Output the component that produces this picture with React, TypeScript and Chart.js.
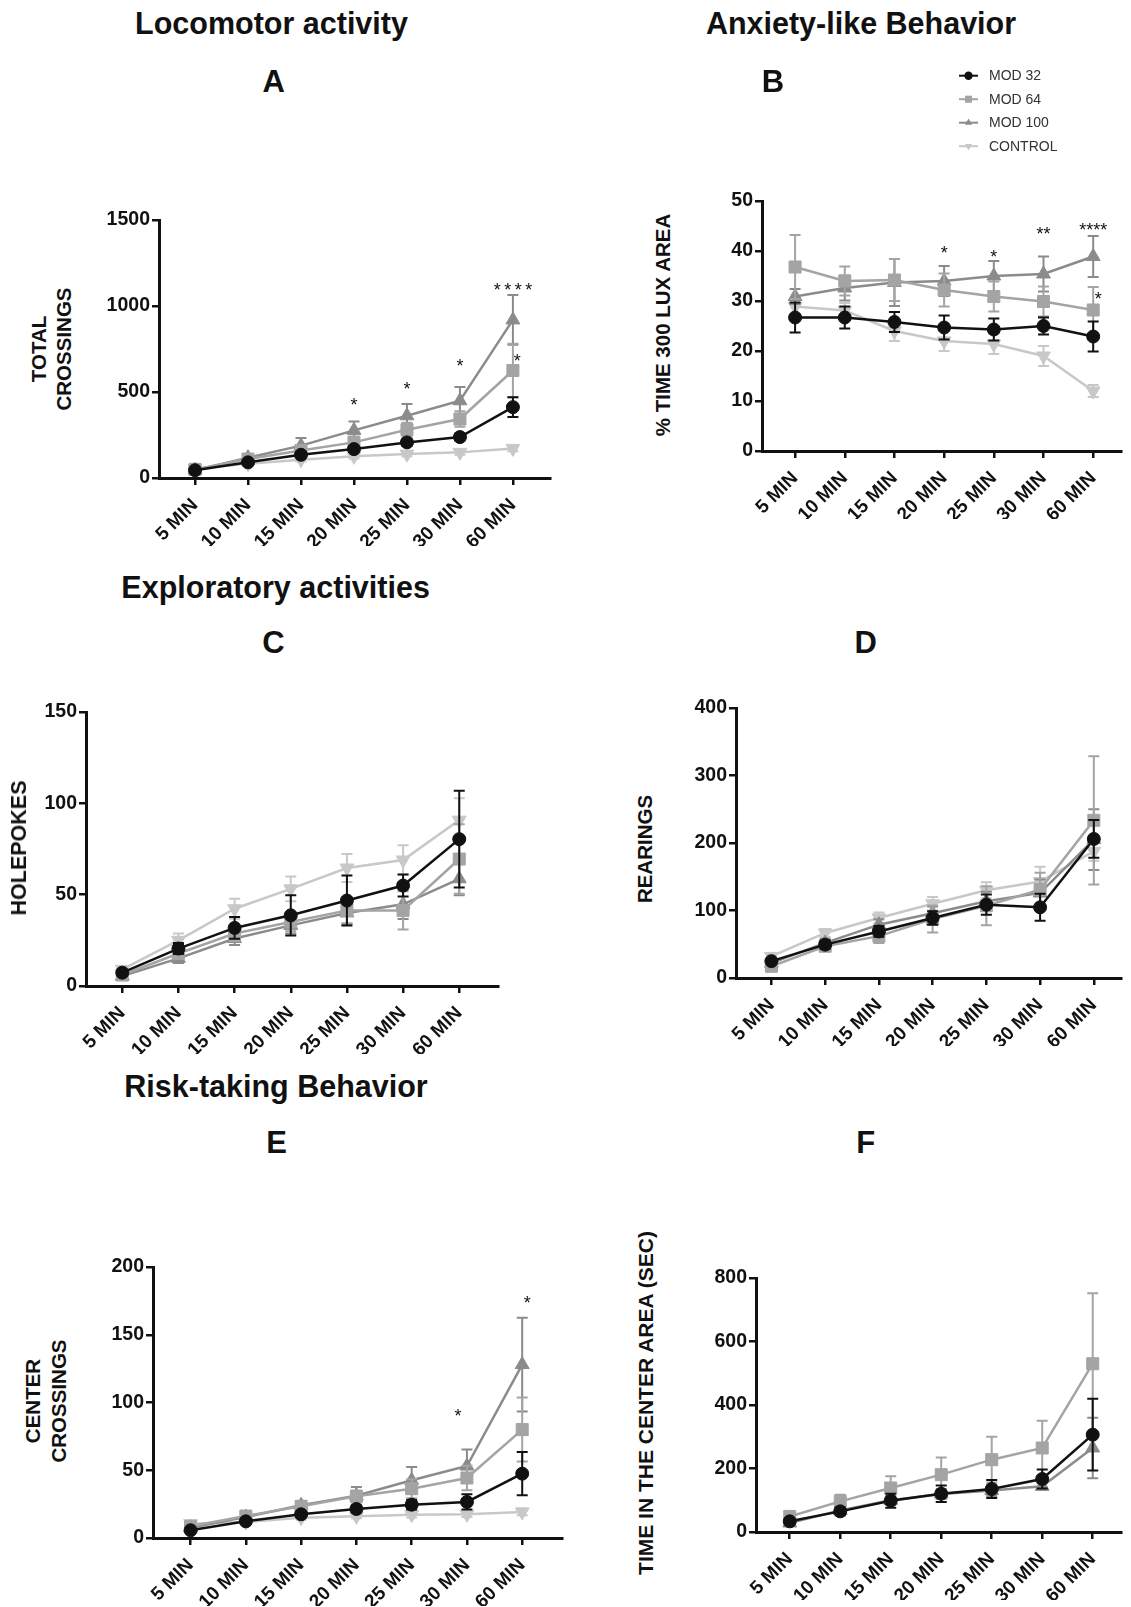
import { useEffect, useRef } from 'react';
import { Chart, registerables } from 'chart.js';

Chart.register(...registerables);

const FONT = '"Liberation Sans", Arial, Helvetica, sans-serif';
const INK = '#111111';

// ---- shared categories / groups ----
const timeLabels = ['5 MIN', '10 MIN', '15 MIN', '20 MIN', '25 MIN', '30 MIN', '60 MIN'];
const groupNames = ['MOD 32', 'MOD 64', 'MOD 100', 'CONTROL'];

// ---- A: total crossings (mean, SEM) ----
const crossTicks = [0, 500, 1000, 1500];
const crossMod32 = [45, 91, 135, 168, 207, 238, 412];
const crossMod32Sem = [8, 10, 12, 14, 18, 20, 58];
const crossMod64 = [50, 110, 160, 207, 281, 343, 625];
const crossMod64Sem = [8, 14, 25, 35, 40, 45, 155];
const crossMod100 = [45, 118, 188, 277, 362, 449, 919];
const crossMod100Sem = [8, 15, 44, 52, 68, 80, 145];
const crossControl = [55, 83, 106, 126, 139, 149, 172];
const crossControlSem = [6, 8, 10, 12, 12, 14, 16];
const crossStars = [
  { at: 3, value: 450, mark: '*' },
  { at: 4, value: 542, mark: '*' },
  { at: 5, value: 677, mark: '*' },
  { at: 6, value: 1118, mark: '****' },
  { at: 6.08, value: 706, mark: '*' },
];

// ---- B: % time in 300 lux area ----
const luxTicks = [0, 10, 20, 30, 40, 50];
const luxMod32 = [26.7, 26.7, 25.8, 24.7, 24.3, 25.0, 22.9];
const luxMod32Sem = [3, 2.2, 2, 2.4, 2.2, 1.7, 3];
const luxMod64 = [36.8, 34.0, 34.2, 32.2, 30.9, 29.9, 28.2];
const luxMod64Sem = [6.4, 2.9, 4.2, 3.3, 3, 3, 4.6];
const luxMod100 = [30.9, 32.6, 33.7, 34.0, 35.0, 35.4, 38.9];
const luxMod100Sem = [1.5, 2.5, 4.7, 3, 3, 3.5, 4.1];
const luxControl = [28.9, 28.1, 24.0, 22.0, 21.4, 19.0, 12.0];
const luxControlSem = [1.5, 1.5, 2, 2, 2, 2, 1.2];
const luxStars = [
  { at: 3, value: 40.4, mark: '*' },
  { at: 4, value: 39.7, mark: '*' },
  { at: 5, value: 44.3, mark: '**' },
  { at: 6, value: 45.1, mark: '****' },
  { at: 6.1, value: 31.2, mark: '*' },
];

// ---- C: holepokes ----
const pokeTicks = [0, 50, 100, 150];
const pokeMod32 = [7.3, 20.5, 31.8, 38.7, 46.8, 55, 80.4];
const pokeMod32Sem = [1.5, 3, 6, 11, 13.7, 6, 26.5];
const pokeMod64 = [6, 17.8, 28.7, 35, 41.4, 41.4, 69.5];
const pokeMod64Sem = [1.5, 3, 4, 5, 7, 10.5, 19];
const pokeMod100 = [5.4, 15.1, 26, 33.2, 40, 44.7, 58.7];
const pokeMod100Sem = [1.2, 2.5, 3.5, 4.5, 6, 8, 9];
const pokeControl = [9.1, 25, 42.3, 53.2, 64.6, 69, 90.8];
const pokeControlSem = [1.5, 3.7, 5.5, 6.8, 7.7, 8, 12];

// ---- D: rearings ----
const rearTicks = [0, 100, 200, 300, 400];
const rearMod32 = [25, 49.4, 69, 89, 108.6, 104.7, 206];
const rearMod32Sem = [4, 6, 8, 10, 15, 20, 28];
const rearMod64 = [17.3, 47, 62, 87.4, 107, 131, 233.6];
const rearMod64Sem = [4, 6, 10, 20, 29, 25, 95];
const rearMod100 = [22, 52, 79, 96, 113.6, 126, 205];
const rearMod100Sem = [4, 6, 8, 10, 14, 20, 45];
const rearControl = [32, 66.7, 89, 110, 130, 143, 187.6];
const rearControlSem = [4, 6, 8, 10, 12, 22, 14];

// ---- E: center crossings ----
const centerTicks = [0, 50, 100, 150, 200];
const centerMod32 = [5.7, 12.3, 17.5, 21.4, 24.6, 26.6, 47.5];
const centerMod32Sem = [1, 1.5, 2, 2.5, 3.5, 5.6, 16];
const centerMod64 = [8.6, 16.2, 23.4, 30.8, 36.4, 44.3, 80];
const centerMod64Sem = [1.5, 2, 3, 4, 7, 9, 23.6];
const centerMod100 = [7.6, 15.5, 24.1, 31.2, 42.6, 53.1, 128];
const centerMod100Sem = [1.5, 2, 3, 6.4, 9.8, 12.3, 34.6];
const centerControl = [10.6, 11.8, 15, 16, 17.2, 17.5, 19.2];
const centerControlSem = [1, 1, 1.5, 1.5, 2, 2, 2.5];
const centerStars = [
  { at: 4.84, value: 93.5, mark: '*' },
  { at: 6.09, value: 176.6, mark: '*' },
];

// ---- F: time in the center area (s) ----
const timeTicks = [0, 200, 400, 600, 800];
const timeMod32 = [33.6, 65, 98.7, 120.7, 135.4, 167, 306.6];
const timeMod32Sem = [5, 12, 22, 26, 28, 30, 113];
const timeMod64 = [49, 96.6, 138.6, 180.6, 227.8, 264.6, 530];
const timeMod64Sem = [6, 21, 37, 54, 72, 86, 222];
const timeMod100 = [28.3, 68, 99.7, 119.7, 131, 143.8, 264.6];
const timeMod100Sem = [5, 10, 14, 16, 18, 10, 95];

// ---- styling ----
const groupStyles = [
  { color: '#111111', pointStyle: 'circle', radius: 6.5, rotation: 0 },
  { color: '#a4a4a4', pointStyle: 'rect', radius: 8.5, rotation: 0 },
  { color: '#8b8b8b', pointStyle: 'triangle', radius: 8, rotation: 0 },
  { color: '#c8c8c8', pointStyle: 'triangle', radius: 8, rotation: 180 },
];

const Y_AXIS_W = 75;
const X_AXIS_H = 68;

type Star = { at: number; value: number; mark: string };
type Panel = {
  key: string;
  area: { left: number; top: number; right: number; bottom: number };
  padTop: number;
  padRight: number;
  xMin: number;
  xMax: number;
  yTicks: number[];
  means: (number[] | null)[];
  sems: (number[] | null)[];
  stars: Star[];
  starSpacing: number;
  legend?: boolean;
};

const panels: Panel[] = [
  {
    key: 'A', area: { left: 159, top: 220, right: 550, bottom: 478 }, padTop: 20, padRight: 12,
    xMin: -0.68, xMax: 6.7, yTicks: crossTicks,
    means: [crossMod32, crossMod64, crossMod100, crossControl],
    sems: [crossMod32Sem, crossMod64Sem, crossMod100Sem, crossControlSem],
    stars: crossStars, starSpacing: 3.5,
  },
  {
    key: 'B', area: { left: 762, top: 201, right: 1131, bottom: 451 }, padTop: 145, padRight: 0,
    xMin: -0.666, xMax: 6.57, yTicks: luxTicks,
    means: [luxMod32, luxMod64, luxMod100, luxControl],
    sems: [luxMod32Sem, luxMod64Sem, luxMod100Sem, luxControlSem],
    stars: luxStars, starSpacing: 0, legend: true,
  },
  {
    key: 'C', area: { left: 86, top: 712, right: 498, bottom: 986 }, padTop: 20, padRight: 12,
    xMin: -0.646, xMax: 6.69, yTicks: pokeTicks,
    means: [pokeMod32, pokeMod64, pokeMod100, pokeControl],
    sems: [pokeMod32Sem, pokeMod64Sem, pokeMod100Sem, pokeControlSem],
    stars: [], starSpacing: 0,
  },
  {
    key: 'D', area: { left: 736, top: 708, right: 1131, bottom: 978 }, padTop: 20, padRight: 0,
    xMin: -0.659, xMax: 6.515, yTicks: rearTicks,
    means: [rearMod32, rearMod64, rearMod100, rearControl],
    sems: [rearMod32Sem, rearMod64Sem, rearMod100Sem, rearControlSem],
    stars: [], starSpacing: 0,
  },
  {
    key: 'E', area: { left: 153, top: 1267, right: 562, bottom: 1538 }, padTop: 20, padRight: 12,
    xMin: -0.68, xMax: 6.72, yTicks: centerTicks,
    means: [centerMod32, centerMod64, centerMod100, centerControl],
    sems: [centerMod32Sem, centerMod64Sem, centerMod100Sem, centerControlSem],
    stars: centerStars, starSpacing: 0,
  },
  {
    key: 'F', area: { left: 756, top: 1278, right: 1131, bottom: 1532 }, padTop: 20, padRight: 0,
    xMin: -0.668, xMax: 6.57, yTicks: timeTicks,
    means: [timeMod32, timeMod64, timeMod100, null],
    sems: [timeMod32Sem, timeMod64Sem, timeMod100Sem, null],
    stars: [], starSpacing: 0,
  },
];

const headings = [
  { text: 'Locomotor activity', x: 271.5, y: 23, size: 30.5 },
  { text: 'A', x: 273.7, y: 81, size: 31 },
  { text: 'Anxiety-like Behavior', x: 861, y: 23, size: 30.5 },
  { text: 'B', x: 773, y: 81, size: 31 },
  { text: 'Exploratory activities', x: 275.6, y: 587, size: 30.5 },
  { text: 'C', x: 273.5, y: 642, size: 31 },
  { text: 'D', x: 865.7, y: 642, size: 31 },
  { text: 'Risk-taking Behavior', x: 276, y: 1086, size: 30.5 },
  { text: 'E', x: 276.6, y: 1142, size: 31 },
  { text: 'F', x: 865.7, y: 1142, size: 31 },
];

const axisTitles = [
  { lines: ['TOTAL', 'CROSSINGS'], x: 50.5, y: 349, size: 20.5, lh: 25 },
  { lines: ['% TIME 300 LUX AREA'], x: 661.7, y: 325, size: 20.5, lh: 21 },
  { lines: ['HOLEPOKES'], x: 18.7, y: 848, size: 21.5, lh: 22 },
  { lines: ['REARINGS'], x: 644, y: 849, size: 20.5, lh: 21 },
  { lines: ['CENTER', 'CROSSINGS'], x: 46, y: 1401, size: 20.5, lh: 26 },
  { lines: ['TIME IN THE CENTER AREA (SEC)'], x: 645.5, y: 1403, size: 21, lh: 22 },
];

function drawMarker(ctx: CanvasRenderingContext2D, style: string, rotationDeg: number, x: number, y: number, r: number) {
  ctx.beginPath();
  if (style === 'circle') {
    ctx.arc(x, y, r, 0, Math.PI * 2);
  } else if (style === 'rect') {
    const s = r * Math.SQRT1_2;
    ctx.rect(x - s, y - s, 2 * s, 2 * s);
  } else {
    let a = (rotationDeg * Math.PI) / 180;
    for (let k = 0; k < 3; k++) {
      const px = x + Math.sin(a) * r;
      const py = y - Math.cos(a) * r;
      if (k === 0) ctx.moveTo(px, py);
      else ctx.lineTo(px, py);
      a += (2 * Math.PI) / 3;
    }
    ctx.closePath();
  }
  ctx.fill();
}

// SEM whiskers, drawn just before each dataset's line and markers
const errorBarPlugin = {
  id: 'semBars',
  beforeDatasetDraw(chart: any, args: any) {
    const ds = chart.data.datasets[args.index];
    const sems: number[] | undefined = ds.sems;
    if (!sems) return;
    const y = chart.scales.y;
    const ctx: CanvasRenderingContext2D = chart.ctx;
    ctx.save();
    ctx.strokeStyle = ds.borderColor;
    ctx.lineWidth = 2;
    args.meta.data.forEach((pt: any, i: number) => {
      const v = ds.data[i].y;
      const e = sems[i];
      const top = y.getPixelForValue(v + e);
      const bot = y.getPixelForValue(Math.max(v - e, 0));
      const x = pt.x;
      ctx.beginPath();
      ctx.moveTo(x, top);
      ctx.lineTo(x, bot);
      ctx.moveTo(x - 5.5, top);
      ctx.lineTo(x + 5.5, top);
      ctx.moveTo(x - 5.5, bot);
      ctx.lineTo(x + 5.5, bot);
      ctx.stroke();
    });
    ctx.restore();
  },
};

function makeStarPlugin(stars: Star[], spacing: number) {
  return {
    id: 'significance',
    afterDatasetsDraw(chart: any) {
      const ctx: CanvasRenderingContext2D = chart.ctx;
      const size = 18;
      ctx.save();
      ctx.fillStyle = INK;
      ctx.font = `${size}px ${FONT}`;
      ctx.textAlign = 'left';
      ctx.textBaseline = 'alphabetic';
      stars.forEach((s) => {
        const x = chart.scales.x.getPixelForValue(s.at);
        const y = chart.scales.y.getPixelForValue(s.value);
        const chars = s.mark.split('');
        const cw = ctx.measureText('*').width;
        const total = chars.length * cw + (chars.length - 1) * spacing;
        let cx = x - total / 2;
        chars.forEach((ch) => {
          ctx.fillText(ch, cx, y + size * 0.57);
          cx += cw + spacing;
        });
      });
      ctx.restore();
    },
  };
}

const legendPlugin = {
  id: 'groupLegend',
  afterDraw(chart: any) {
    const ctx: CanvasRenderingContext2D = chart.ctx;
    const { left, top } = chart.chartArea;
    const x0 = left + 197;
    ctx.save();
    groupNames.forEach((name, g) => {
      const st = groupStyles[g];
      const y = top - 125.3 + g * 23.5;
      ctx.strokeStyle = st.color;
      ctx.fillStyle = st.color;
      ctx.lineWidth = 2;
      ctx.beginPath();
      ctx.moveTo(x0, y);
      ctx.lineTo(x0 + 19, y);
      ctx.stroke();
      drawMarker(ctx, st.pointStyle, st.rotation, x0 + 9.5, y, st.pointStyle === 'rect' ? 5 : 4.2);
      ctx.fillStyle = '#333333';
      ctx.font = `14px ${FONT}`;
      ctx.textAlign = 'left';
      ctx.textBaseline = 'middle';
      ctx.fillText(name, x0 + 30, y + 0.5);
    });
    ctx.restore();
  },
};

function PanelChart({ p }: { p: Panel }) {
  const ref = useRef<HTMLCanvasElement>(null);
  const left = p.area.left - Y_AXIS_W;
  const top = p.area.top - p.padTop;
  const width = p.area.right + p.padRight - left;
  const height = p.area.bottom + X_AXIS_H - top;

  useEffect(() => {
    const datasets: any[] = [];
    p.means.forEach((m, g) => {
      if (!m) return;
      const st = groupStyles[g];
      datasets.push({
        label: groupNames[g],
        data: m.map((v, i) => ({ x: i, y: v })),
        sems: p.sems[g],
        borderColor: st.color,
        backgroundColor: st.color,
        borderWidth: 2.5,
        pointStyle: st.pointStyle,
        pointRadius: st.radius,
        pointRotation: st.rotation,
        pointBorderWidth: 1,
        pointBorderColor: st.color,
        pointBackgroundColor: st.color,
        tension: 0,
        fill: false,
        clip: false,
      });
    });
    const yTicks = p.yTicks;
    const gridOpts = {
      display: true,
      drawOnChartArea: false,
      drawTicks: true,
      tickLength: 7,
      tickWidth: 2.5,
      tickColor: INK,
      color: INK,
      lineWidth: 2.5,
    };
    const plugins: any[] = [errorBarPlugin, makeStarPlugin(p.stars, p.starSpacing)];
    if (p.legend) plugins.push(legendPlugin);
    const chart = new Chart(ref.current as HTMLCanvasElement, {
      type: 'line',
      data: { datasets },
      options: {
        animation: false,
        responsive: false,
        devicePixelRatio: 1,
        events: [],
        layout: { padding: { top: p.padTop, right: p.padRight, left: 0, bottom: 0 } },
        plugins: { legend: { display: false }, tooltip: { enabled: false } },
        scales: {
          x: {
            type: 'linear',
            min: p.xMin,
            max: p.xMax,
            afterBuildTicks: (s: any) => {
              s.ticks = timeLabels.map((_, i) => ({ value: i }));
            },
            afterFit: (s: any) => {
              s.height = X_AXIS_H;
            },
            ticks: {
              autoSkip: false,
              minRotation: 45,
              maxRotation: 45,
              padding: 9,
              color: INK,
              font: { family: FONT, size: 19, weight: 'bold' },
              callback: (v: any) => timeLabels[v as number] ?? '',
            },
            grid: gridOpts,
            border: { display: true, color: INK, width: 3 },
          },
          y: {
            type: 'linear',
            min: yTicks[0],
            max: yTicks[yTicks.length - 1],
            afterBuildTicks: (s: any) => {
              s.ticks = yTicks.map((v) => ({ value: v }));
            },
            afterFit: (s: any) => {
              s.width = Y_AXIS_W;
            },
            ticks: {
              padding: 2,
              color: INK,
              font: { family: FONT, size: 19.5, weight: 'bold' },
              callback: (v: any) => String(v),
            },
            grid: gridOpts,
            border: { display: true, color: INK, width: 3 },
          },
        },
      } as any,
      plugins,
    });
    return () => chart.destroy();
  }, [p]);

  return (
    <canvas
      ref={ref}
      width={width}
      height={height}
      style={{ position: 'absolute', left, top, width, height }}
    />
  );
}

export default function App() {
  useEffect(() => {
    document.body.style.margin = '0';
    document.body.style.overflow = 'hidden';
  }, []);
  return (
    <div
      style={{
        position: 'absolute',
        left: 0,
        top: 0,
        width: 1131,
        height: 1607,
        overflow: 'hidden',
        background: '#ffffff',
        fontFamily: FONT,
        color: INK,
      }}
    >
      {panels.map((p) => (
        <PanelChart key={p.key} p={p} />
      ))}
      {headings.map((h) => (
        <div
          key={h.text}
          style={{
            position: 'absolute',
            left: h.x,
            top: h.y,
            transform: 'translate(-50%, -50%)',
            fontSize: h.size,
            fontWeight: 'bold',
            lineHeight: 1,
            whiteSpace: 'nowrap',
          }}
        >
          {h.text}
        </div>
      ))}
      {axisTitles.map((t) => (
        <div
          key={t.lines.join(' ')}
          style={{
            position: 'absolute',
            left: t.x,
            top: t.y,
            transform: 'translate(-50%, -50%) rotate(-90deg)',
            fontSize: t.size,
            fontWeight: 'bold',
            lineHeight: `${t.lh}px`,
            whiteSpace: 'nowrap',
            textAlign: 'center',
          }}
        >
          {t.lines.map((line, i) => (
            <div key={i}>{line}</div>
          ))}
        </div>
      ))}
    </div>
  );
}
